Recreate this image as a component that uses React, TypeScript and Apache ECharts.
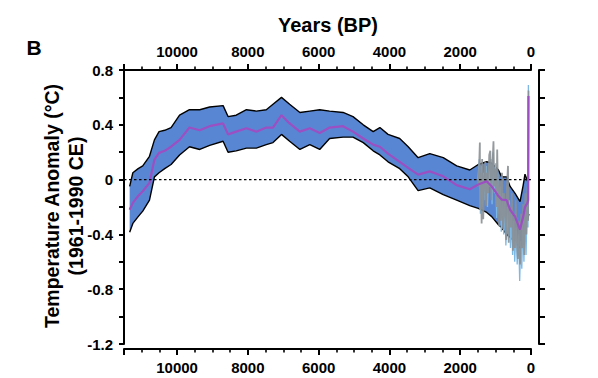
import React, { useEffect, useRef } from "react";
import * as echarts from "echarts";

// ---- data (years BP, temperature anomaly °C) ----
const bandYears = [11340, 11250, 11100, 10970, 10780, 10640, 10510, 10350, 10170, 9930, 9650, 9360, 9080, 8700, 8560, 8330, 8040, 7760, 7480, 7290, 7050, 6820, 6530, 6250, 5970, 5690, 5310, 5030, 4740, 4460, 4270, 4040, 3710, 3470, 3190, 2860, 2480, 2100, 1730, 1490, 1250, 1110, 920, 830, 690, 590, 450, 310, 220, 170, 100, 60];
const upperValues = [-0.05, 0.05, 0.08, 0.1, 0.17, 0.29, 0.35, 0.36, 0.38, 0.47, 0.51, 0.51, 0.53, 0.54, 0.46, 0.47, 0.51, 0.5, 0.51, 0.55, 0.6, 0.55, 0.49, 0.5, 0.51, 0.5, 0.49, 0.46, 0.4, 0.35, 0.38, 0.33, 0.3, 0.24, 0.16, 0.19, 0.16, 0.1, 0.07, 0.11, 0.13, 0.12, 0.07, 0.02, 0.02, -0.05, -0.1, -0.16, -0.04, 0.04, -0.01, 0.0];
const lowerValues = [-0.385, -0.32, -0.27, -0.23, -0.15, 0.02, 0.05, 0.08, 0.11, 0.18, 0.24, 0.22, 0.25, 0.28, 0.2, 0.21, 0.23, 0.23, 0.255, 0.27, 0.33, 0.28, 0.22, 0.255, 0.22, 0.3, 0.31, 0.31, 0.27, 0.21, 0.18, 0.13, 0.08, 0.02, -0.08, -0.06, -0.11, -0.15, -0.19, -0.21, -0.24, -0.27, -0.33, -0.35, -0.4, -0.42, -0.46, -0.5, -0.45, -0.4, -0.3, -0.25];

const meanYears = [11340, 11250, 11100, 10970, 10780, 10640, 10510, 10350, 10170, 9930, 9650, 9360, 9080, 8700, 8560, 8330, 8040, 7760, 7480, 7290, 7050, 6820, 6530, 6250, 5970, 5690, 5310, 5030, 4740, 4460, 4270, 4040, 3710, 3470, 3190, 2860, 2480, 2100, 1730, 1490, 1250, 1110, 920, 830, 690, 590, 450, 310, 220, 170, 100, 80, 72];
const meanValues = [-0.22, -0.17, -0.12, -0.085, -0.024, 0.146, 0.195, 0.21, 0.24, 0.29, 0.38, 0.36, 0.39, 0.41, 0.33, 0.35, 0.375, 0.35, 0.38, 0.38, 0.47, 0.41, 0.35, 0.375, 0.34, 0.38, 0.39, 0.35, 0.3, 0.255, 0.24, 0.19, 0.13, 0.085, 0.036, 0.06, 0.024, -0.04, -0.07, -0.036, -0.012, -0.05, -0.12, -0.146, -0.15, -0.22, -0.27, -0.365, -0.27, -0.2, -0.17, -0.15, 0.61];

const greyYears = [1500, 1470, 1445, 1440, 1420, 1395, 1380, 1350, 1320, 1290, 1270, 1240, 1210, 1180, 1150, 1120, 1090, 1060, 1040, 1010, 980, 955, 930, 900, 880, 850, 820, 790, 760, 730, 700, 680, 650, 630, 600, 570, 540, 510, 480, 455, 430, 400, 370, 340, 310, 280, 250, 220, 190, 160, 130, 100, 80, 70];
const greyValues = [-0.05, 0.05, 0.27, -0.22, 0.05, -0.32, 0.15, -0.29, 0.02, 0.13, -0.19, 0.05, -0.1, 0.18, 0.21, -0.15, 0.1, 0.28, -0.05, 0.08, -0.2, 0.22, -0.12, -0.34, 0.0, -0.3, 0.05, -0.36, -0.1, -0.25, -0.44, -0.05, 0.1, -0.46, -0.2, -0.35, -0.1, -0.52, -0.25, -0.5, -0.15, -0.45, -0.58, -0.3, -0.62, -0.25, -0.5, -0.18, -0.55, -0.1, -0.4, -0.05, -0.3, 0.65];

const blueYears = [1500, 1460, 1430, 1400, 1370, 1340, 1300, 1260, 1230, 1190, 1160, 1130, 1100, 1070, 1030, 1000, 970, 940, 910, 870, 840, 800, 770, 740, 710, 670, 640, 610, 580, 550, 520, 490, 460, 420, 390, 350, 320, 290, 260, 230, 200, 170, 140, 110, 85, 74];
const blueValues = [0.0, 0.15, -0.25, 0.1, -0.2, 0.05, -0.15, 0.1, -0.2, 0.12, -0.05, 0.15, -0.18, 0.2, -0.1, 0.12, -0.28, 0.05, -0.25, -0.05, -0.38, -0.1, -0.4, -0.15, -0.48, -0.2, -0.42, -0.15, -0.5, -0.25, -0.55, -0.3, -0.6, -0.35, -0.62, -0.4, -0.74, -0.45, -0.65, -0.3, -0.6, -0.25, -0.55, -0.2, -0.35, 0.69];

const zeroLineYears = [11500, 0];
const zeroLineValues = [0, 0];

const xTickLabels = [10000, 8000, 6000, 4000, 2000, 0];
const yTickLabels = ["0.8", "0.4", "0", "-0.4", "-0.8", "-1.2"];

const FONT = "'Liberation Sans', Arial, sans-serif";
const BLUE = "#5886d3";
const PURPLE = "#9c4fc2";
const GREY = "#8a8f94";
const LIGHTBLUE = "#7db8e4";

function pairs(xs: number[], ys: number[]) {
  return xs.map((x, i) => [x, ys[i]]);
}

export default function App() {
  const ref = useRef<HTMLDivElement>(null);

  useEffect(() => {
    if (!ref.current) return;
    const chart = echarts.init(ref.current, undefined, { renderer: "svg" });

    const xAxisCommon = (position: "top" | "bottom", offset: number) => ({
      type: "value",
      position,
      offset,
      min: 0,
      max: 11500,
      interval: 2000,
      inverse: true,
      axisLine: { show: true, onZero: false, lineStyle: { color: "#000", width: 2 } },
      axisTick: { show: true, inside: false, length: 6, lineStyle: { color: "#000", width: 2 } },
      minorTick: { show: true, splitNumber: 4, length: 3.5, lineStyle: { color: "#000", width: 1.6 } },
      axisLabel: {
        show: true,
        margin: 11,
        color: "#000",
        fontSize: 15,
        fontWeight: "bold",
        fontFamily: FONT,
        showMaxLabel: false,
        formatter: (v: number) => (xTickLabels.indexOf(v) >= 0 ? String(v) : ""),
      },
      splitLine: { show: false },
      minorSplitLine: { show: false },
    });

    const yAxisCommon = (position: "left" | "right", offset: number, showLabel: boolean, tickLen: number) => ({
      type: "value",
      position,
      offset,
      min: -1.2,
      max: 0.8,
      interval: 0.2,
      axisLine: { show: true, onZero: false, lineStyle: { color: "#000", width: 2 } },
      axisTick: { show: true, inside: false, length: tickLen, lineStyle: { color: "#000", width: 2 } },
      axisLabel: {
        show: showLabel,
        margin: 11,
        color: "#000",
        fontSize: 15,
        fontWeight: "bold",
        fontFamily: FONT,
        formatter: (v: number) => {
          const r = Math.round(v * 10);
          if (r % 4 !== 0) return "";
          const s = r === 0 ? "0" : (r / 10).toFixed(1);
          return yTickLabels.indexOf(s) >= 0 ? s : "";
        },
      },
      splitLine: { show: false },
    });

    chart.setOption({
      animation: false,
      backgroundColor: "#ffffff",
      grid: { left: 124, right: 67, top: 70, bottom: 34, containLabel: false },
      xAxis: [xAxisCommon("bottom", 5), xAxisCommon("top", 0)],
      yAxis: [yAxisCommon("left", 0, true, 5), yAxisCommon("right", 8, false, 6)],
      graphic: [
        {
          type: "text",
          x: 34,
          y: 47,
          style: { text: "B", font: `bold 21px ${FONT}`, fill: "#000", textAlign: "center", textVerticalAlign: "middle", verticalAlign: "middle" },
        },
        {
          type: "text",
          x: 328,
          y: 25,
          style: { text: "Years (BP)", font: `bold 20px ${FONT}`, fill: "#000", textAlign: "center", textVerticalAlign: "middle", verticalAlign: "middle" },
        },
        {
          type: "text",
          x: 52,
          y: 206,
          rotation: Math.PI / 2,
          style: { text: "Temperature Anomaly (°C)", font: `bold 19.5px ${FONT}`, fill: "#000", textAlign: "center", textVerticalAlign: "middle", verticalAlign: "middle" },
        },
        {
          type: "text",
          x: 76,
          y: 206,
          rotation: Math.PI / 2,
          style: { text: "(1961-1990 CE)", font: `bold 19.5px ${FONT}`, fill: "#000", textAlign: "center", textVerticalAlign: "middle", verticalAlign: "middle" },
        },
      ],
      series: [
        {
          type: "custom",
          name: "band",
          xAxisIndex: 0,
          yAxisIndex: 0,
          silent: true,
          z: 1,
          data: [[bandYears[0], upperValues[0]]],
          renderItem: (params: any, api: any) => {
            if (params.dataIndex !== 0) return null;
            const pts: number[][] = [];
            for (let i = 0; i < bandYears.length; i++) pts.push(api.coord([bandYears[i], upperValues[i]]));
            for (let i = bandYears.length - 1; i >= 0; i--) pts.push(api.coord([bandYears[i], lowerValues[i]]));
            return { type: "polygon", shape: { points: pts }, style: { fill: BLUE, stroke: "none" } };
          },
        },
        {
          type: "line",
          name: "upper",
          data: pairs(bandYears, upperValues),
          symbol: "none",
          silent: true,
          z: 2,
          lineStyle: { color: "#000", width: 1.4 },
        },
        {
          type: "line",
          name: "lower",
          data: pairs(bandYears, lowerValues),
          symbol: "none",
          silent: true,
          z: 2,
          lineStyle: { color: "#000", width: 1.4 },
        },
        {
          type: "line",
          name: "lightblue",
          data: pairs(blueYears, blueValues),
          symbol: "none",
          silent: true,
          z: 3,
          lineStyle: { color: LIGHTBLUE, width: 1.3 },
        },
        {
          type: "line",
          name: "grey",
          data: pairs(greyYears, greyValues),
          symbol: "none",
          silent: true,
          z: 4,
          lineStyle: { color: GREY, width: 1.8, opacity: 0.9 },
        },
        {
          type: "line",
          name: "mean",
          data: pairs(meanYears, meanValues),
          symbol: "none",
          silent: true,
          z: 5,
          lineStyle: { color: PURPLE, width: 2.2 },
        },
        {
          type: "line",
          name: "zero",
          data: pairs(zeroLineYears, zeroLineValues),
          symbol: "none",
          silent: true,
          z: 6,
          lineStyle: { color: "#000", width: 1.4, type: [2.5, 2.5] },
        },
      ],
    });

    return () => {
      chart.dispose();
    };
  }, []);

  return (
    <div
      ref={ref}
      style={{ position: "absolute", left: 0, top: 0, width: 598, height: 378, background: "#fff" }}
    />
  );
}
